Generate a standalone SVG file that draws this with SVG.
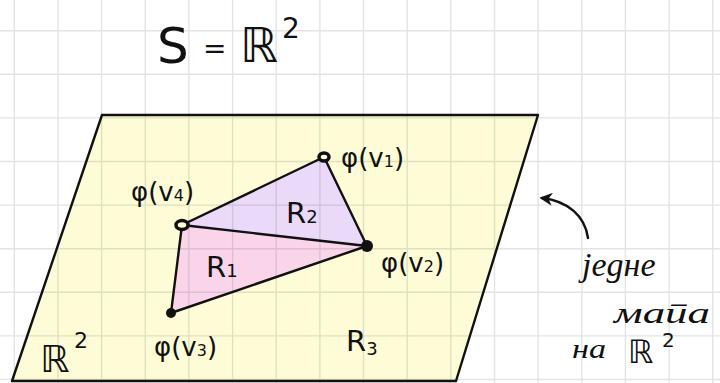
<svg xmlns="http://www.w3.org/2000/svg" width="720" height="383" viewBox="0 0 720 383">
<defs>
<marker id="ah" viewBox="0 0 10 10" refX="8" refY="5" markerWidth="13" markerHeight="13" orient="auto" markerUnits="userSpaceOnUse">
<path d="M0,0 L10,5 L0,10 L3,5 Z" fill="#111"/>
</marker>
</defs>
<style>
.grid{stroke:#000;stroke-opacity:0.11;stroke-width:1.4;fill:none}
.edge{stroke:#111;stroke-width:2.4;fill:none;stroke-linecap:round;stroke-linejoin:round}
.t{font-family:"DejaVu Sans","Noto Sans",sans-serif;fill:#111}
.lab{font-family:"DejaVu Sans","Noto Sans",sans-serif;fill:#111;font-size:26px}
.cur{font-family:"Liberation Serif","DejaVu Serif",serif;font-style:italic;fill:#111}
.dot{fill:#111}
.ring{fill:#fdfcd8;stroke:#111;stroke-width:3.5}
</style>
<rect width="720" height="383" fill="#ffffff"/>
<g id="plane">
<polygon points="102,115 538,115 456,381 12,381" fill="#fdfcd6"/>
</g>
<g id="R2">
<polygon points="182,225 324,157 367,246" fill="#ead9f9"/>
<text class="t" x="286" y="223" font-size="29">R<tspan font-size="18">2</tspan></text>
</g>
<g id="R1">
<polygon points="182,225 367,246 171,313" fill="#fad5ea"/>
<text class="t" x="206" y="277" font-size="29">R<tspan font-size="18">1</tspan></text>
</g>
<g id="gridlines">
<path class="grid" d="M14.3,0V383M58,0V383M101.6,0V383M145.3,0V383M188.9,0V383M232.6,0V383M276.2,0V383M319.9,0V383M363.5,0V383M407.2,0V383M450.8,0V383M494.5,0V383M538.1,0V383M581.8,0V383M625.4,0V383M669.1,0V383M712.7,0V383M0,30.7H720M0,74.3H720M0,117.9H720M0,161.5H720M0,205.1H720M0,248.7H720M0,292.3H720M0,335.9H720M0,379.5H720"/>
</g>
<g id="connectors">
<polyline class="edge" points="102,115 538,115 456,381 12,381 102,115"/>
<path class="edge" d="M182,225 L324,157 L367,246 L171,313 Z"/>
<path class="edge" d="M182,225 L367,246"/>
<path class="edge" d="M588,238 C585,216 568,201 542,198" marker-end="url(#ah)"/>
</g>
<g id="title">
<text class="t" x="157" y="63" font-size="50">S</text>
<text class="t" x="203" y="58" font-size="28">=</text>
<text class="t" x="240" y="62" font-size="48">ℝ</text>
<text class="t" x="282" y="38" font-size="28">2</text>
</g>
<g id="v1">
<ellipse class="ring" cx="324" cy="157" rx="5" ry="4"/>
<text class="lab" x="341" y="167">φ(v<tspan font-size="16">1</tspan>)</text>
</g>
<g id="v4">
<ellipse class="ring" cx="182" cy="225" rx="6" ry="4.5"/>
<text class="lab" x="131" y="201">φ(v<tspan font-size="16">4</tspan>)</text>
</g>
<g id="v2">
<ellipse class="dot" cx="367" cy="246" rx="6" ry="6"/>
<text class="lab" x="381" y="272">φ(v<tspan font-size="16">2</tspan>)</text>
</g>
<g id="v3">
<ellipse class="dot" cx="171" cy="313" rx="5" ry="5"/>
<text class="lab" x="154" y="356">φ(v<tspan font-size="16">3</tspan>)</text>
</g>
<g id="R3">
<text class="t" x="346" y="351" font-size="29">R<tspan font-size="18" dy="4">3</tspan></text>
</g>
<g id="R2plane">
<text class="t" x="40" y="372" font-size="37">ℝ</text>
<text class="t" x="74" y="348" font-size="22">2</text>
</g>
<g id="note">
<text class="cur" x="582" y="276" font-size="34" xml:lang="sr">једне</text>
<text class="cur" x="614" y="323" font-size="30" xml:lang="sr" textLength="96" lengthAdjust="spacingAndGlyphs">мапа</text>
<text class="cur" x="572" y="358" font-size="28" xml:lang="sr" textLength="34" lengthAdjust="spacingAndGlyphs">на</text>
<text class="t" x="628" y="363" font-size="32">ℝ</text>
<text class="t" x="662" y="347" font-size="20">2</text>
</g>
</svg>
